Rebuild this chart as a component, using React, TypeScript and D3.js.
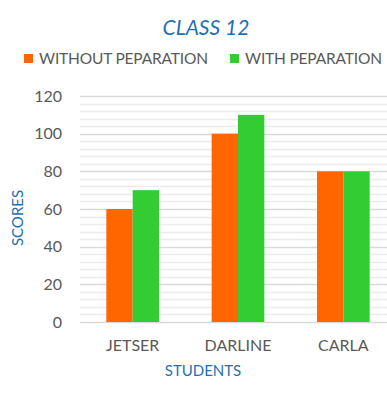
import React, { useEffect, useRef } from 'react'
import * as d3 from 'd3'

const students = ['JETSER', 'DARLINE', 'CARLA']
const seriesNames = ['WITHOUT PEPARATION', 'WITH PEPARATION']
const withoutPrep = [60, 100, 80]
const withPrep = [70, 110, 80]
const yTicks = [0, 20, 40, 60, 80, 100, 120]
const colors = ['#FF6600', '#33CC33']

export default function App() {
  const svgRef = useRef<SVGSVGElement>(null)

  useEffect(() => {
    if (!svgRef.current) return
    const root = d3.select(svgRef.current)
    root.selectAll('*').remove()

    const width = 387
    const height = 394
    const margin = { top: 96, left: 80, bottom: 72 }
    const innerWidth = 316
    const innerHeight = height - margin.top - margin.bottom
    const font = 'Lato, sans-serif'

    root.attr('width', width).attr('height', height)

    // Title
    root
      .append('text')
      .attr('x', 206)
      .attr('y', 35)
      .attr('text-anchor', 'middle')
      .style('font-family', font)
      .style('font-size', '21px')
      .style('font-style', 'italic')
      .style('fill', '#1F6FB5')
      .text('CLASS 12')

    // Legend
    const legendX = [24, 230]
    seriesNames.forEach((name, i) => {
      root
        .append('rect')
        .attr('x', legendX[i])
        .attr('y', 54)
        .attr('width', 9)
        .attr('height', 9)
        .attr('fill', colors[i])
      root
        .append('text')
        .attr('x', legendX[i] + 15)
        .attr('y', 63.5)
        .attr('textLength', i === 0 ? 169 : 137)
        .style('font-family', font)
        .style('font-size', '15.5px')
        .style('fill', '#595959')
        .text(name)
    })

    const g = root.append('g').attr('transform', `translate(${margin.left},${margin.top})`)

    const x0 = d3.scaleBand().domain(students).range([0, innerWidth]).paddingInner(0).paddingOuter(0)
    const x1 = d3.scaleBand().domain(['0', '1']).range([0, x0.bandwidth()]).paddingOuter(1).paddingInner(0)
    const y = d3.scaleLinear().domain([0, 120]).range([innerHeight, 0])

    // Minor grid
    g.selectAll('.minor')
      .data(d3.range(0, 121, 4).filter((v) => v % 20 !== 0))
      .join('line')
      .attr('x1', 0)
      .attr('x2', innerWidth)
      .attr('y1', (d) => Math.round(y(d)) + 0.5)
      .attr('y2', (d) => Math.round(y(d)) + 0.5)
      .attr('stroke', '#EBEBEB')
      .attr('stroke-width', 1.5)

    // Major grid
    g.selectAll('.major')
      .data(yTicks)
      .join('line')
      .attr('x1', 0)
      .attr('x2', innerWidth)
      .attr('y1', (d) => Math.round(y(d)) + 0.5)
      .attr('y2', (d) => Math.round(y(d)) + 0.5)
      .attr('stroke', '#D9D9D9')
      .attr('stroke-width', 1.5)

    // Bars
    const data = students.map((s, i) => ({ s, vals: [withoutPrep[i], withPrep[i]] }))
    const groups = g
      .selectAll('.grp')
      .data(data)
      .join('g')
      .attr('transform', (d) => `translate(${x0(d.s)},0)`)
    groups
      .selectAll('rect')
      .data((d) => d.vals.map((v, k) => ({ v, k })))
      .join('rect')
      .attr('x', (d) => x1(String(d.k)) || 0)
      .attr('y', (d) => y(d.v))
      .attr('width', x1.bandwidth())
      .attr('height', (d) => innerHeight - y(d.v))
      .attr('fill', (d) => colors[d.k])

    // Y tick labels
    g.selectAll('.ytick')
      .data(yTicks)
      .join('text')
      .attr('x', -18)
      .attr('y', (d) => y(d))
      .attr('dy', '0.35em')
      .attr('text-anchor', 'end')
      .style('font-family', font)
      .style('font-size', '16px')
      .style('fill', '#595959')
      .text((d) => d)

    // X tick labels
    g.selectAll('.xtick')
      .data(students)
      .join('text')
      .attr('x', (d) => (x0(d) || 0) + x0.bandwidth() / 2)
      .attr('y', innerHeight + 29)
      .attr('text-anchor', 'middle')
      .style('font-family', font)
      .style('font-size', '16px')
      .style('fill', '#595959')
      .text((d) => d)

    // Axis titles
    root
      .append('text')
      .attr('x', 203)
      .attr('y', 376)
      .attr('text-anchor', 'middle')
      .style('font-family', font)
      .style('font-size', '15px')
      .style('fill', '#1F6FB5')
      .text('STUDENTS')

    root
      .append('text')
      .attr('transform', 'translate(23,218) rotate(-90)')
      .attr('text-anchor', 'middle')
      .style('font-family', font)
      .style('font-size', '15px')
      .style('fill', '#1F6FB5')
      .text('SCORES')
  }, [])

  return (
    <div style={{ position: 'absolute', left: 0, top: 0 }}>
      <svg ref={svgRef}></svg>
    </div>
  )
}
